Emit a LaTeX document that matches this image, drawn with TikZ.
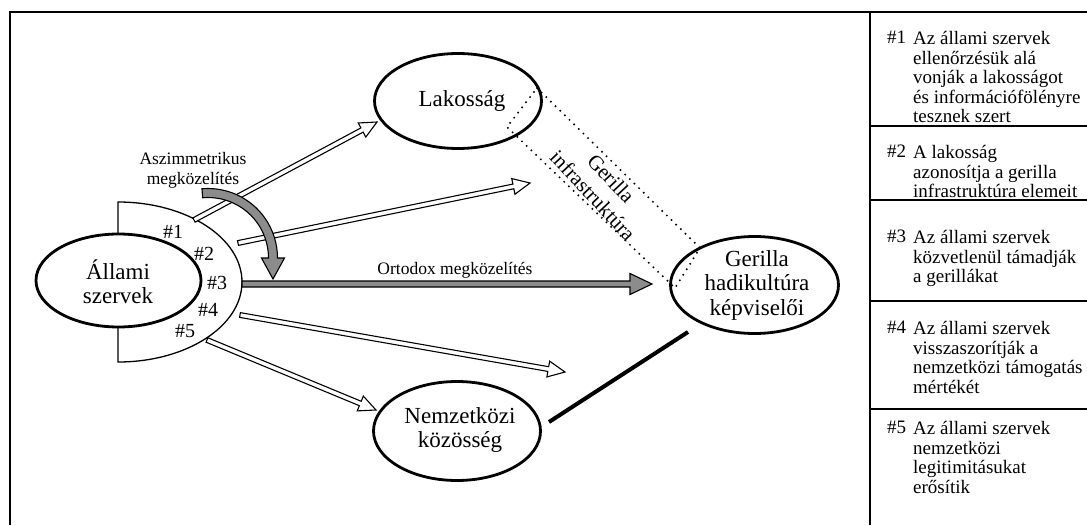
\documentclass[tikz,border=0pt]{standalone}
\usepackage{fontspec}
\setmainfont{Liberation Serif}
\usetikzlibrary{shapes.geometric,calc}
\definecolor{arrgray}{RGB}{140,140,140}
\newcommand\hollowarrow[6][]{%
  \coordinate (hc) at ($(#3)!#6!(#2)$);
  \draw[harrowstyle,#1] ($(#2)!#4!90:(#3)$) -- ($(hc)!#4!-90:(#2)$) -- ($(hc)!#5!-90:(#2)$) -- (#3) -- ($(hc)!#5!90:(#2)$) -- ($(hc)!#4!90:(#2)$) -- ($(#2)!#4!-90:(#3)$) -- cycle;}
\begin{document}
\begin{tikzpicture}[x=1pt,y=-1pt,
  ell/.style={ellipse, draw, line width=2.8pt, fill=white, inner sep=0pt},
  mtxt/.style={align=center, inner sep=0pt, font=\fontsize{23}{24.5}\selectfont},
  harrowstyle/.style={draw, line width=1.1pt, fill=white, line join=miter},
  lbl/.style={font=\fontsize{17.5}{20}\selectfont, align=center, inner sep=0pt},
  tabtxt/.style={font=\fontsize{19}{19.6}\selectfont, align=left, inner sep=0pt, anchor=north west},
  hashlbl/.style={font=\fontsize{20}{22}\selectfont, inner sep=0pt},
  frame/.style={line width=2.6pt},
  rowline/.style={line width=2.2pt},
  dots/.style={line width=2.2pt, dash pattern=on 0pt off 6.5pt, line cap=round}
]
\useasboundingbox (0,0) rectangle (1087,525);
\fill[white] (0,0) rectangle (1087,525);
% frame and table
\draw[frame] (10,525) -- (10,12) -- (1087,12);
\draw[frame] (870,12) -- (870,525);
\foreach \yy in {126,200,301,409} \draw[rowline] (870,\yy) -- (1087,\yy);
% half-moon
\draw[line width=1.3pt, fill=white] (118,202) arc[start angle=-90, end angle=90, x radius=124, y radius=80] -- cycle;
% ellipses
\node[ell, minimum width=165pt, minimum height=93pt] (allami) at (118.5,280.5) {};
\node[ell, minimum width=167pt, minimum height=95pt] (lak) at (458,101) {};
\node[ell, minimum width=168pt, minimum height=97pt] (ger) at (754.5,285) {};
\node[ell, minimum width=167pt, minimum height=99pt] (nem) at (457,431) {};
\node[mtxt] (allamitxt) at (118,281.5) {Állami\\szervek};
\node[mtxt] (laktxt) at (462,101) {Lakosság};
\node[mtxt] (gertxt) at (757,285) {Gerilla\\hadikultúra\\képviselői};
\node[mtxt] (nemtxt) at (460,430) {Nemzetközi\\közösség};
% hash labels
\node[hashlbl] (h1) at (173,232) {\#1};
\node[hashlbl] (h2) at (204,254) {\#2};
\node[hashlbl] (h3) at (217,283) {\#3};
\node[hashlbl] (h4) at (208,310) {\#4};
\node[hashlbl] (h5) at (185,331) {\#5};
% dotted infrastructure
\draw[dots] (537,88) -- (700,248) -- (675,288) -- (507,127) -- cycle;
\node[font=\fontsize{21}{25}\selectfont, align=center, inner sep=0pt, rotate=-47] (infra) at (602,187) {Gerilla\\infrastruktúra};
% arrows
\coordinate (a1s) at (194,220); \coordinate (a1e) at (377,122);
\coordinate (a2s) at (238,243); \coordinate (a2e) at (530,183);
\coordinate (a3s) at (242,284); \coordinate (a3e) at (652,284);
\coordinate (a4s) at (240,315); \coordinate (a4e) at (565,372);
\coordinate (a5s) at (207,340); \coordinate (a5e) at (376,410);
\hollowarrow{a1s}{a1e}{2.4pt}{8pt}{17pt}
\hollowarrow{a2s}{a2e}{2.4pt}{8pt}{17pt}
\hollowarrow[fill=arrgray]{a3s}{a3e}{3pt}{10.5pt}{22pt}
\hollowarrow{a4s}{a4e}{2.4pt}{8pt}{17pt}
\hollowarrow{a5s}{a5e}{2.4pt}{8pt}{17pt}
% curved asymmetric arrow
\coordinate (O) at (208,258);
\draw[line width=1.1pt, fill=arrgray, line join=miter] ($(O)+(-95:69.5)$) arc[start angle=-95, end angle=0, radius=69.5] -- (284.5,258) -- (273,279) -- (261.5,258) -- (268.5,258) arc[start angle=0, end angle=-95, radius=60.5] -- cycle;
\node[lbl] (asz) at (193,170) {Aszimmetrikus\\megközelítés};
\node[lbl] (ort) at (455,270) {Ortodox megközelítés};
% thick line
\coordinate (ts) at (549,422); \coordinate (te) at (688,332);
\draw[line width=4pt] (ts) -- (te);
% table texts
\node[tabtxt] (n1) at (887,31) {\#1};
\node[tabtxt] (t1) at (913,31) {Az állami szervek\\ellenőrzésük alá\\vonják a lakosságot\\és információfölényre\\tesznek szert};
\node[tabtxt] (n2) at (887,145) {\#2};
\node[tabtxt] (t2) at (913,145) {A lakosság\\azonosítja a gerilla\\infrastruktúra elemeit};
\node[tabtxt] (n3) at (887,230) {\#3};
\node[tabtxt] (t3) at (913,230) {Az állami szervek\\közvetlenül támadják\\a gerillákat};
\node[tabtxt] (n4) at (887,321) {\#4};
\node[tabtxt] (t4) at (913,321) {Az állami szervek\\visszaszorítják a\\nemzetközi támogatás\\mértékét};
\node[tabtxt] (n5) at (887,421) {\#5};
\node[tabtxt] (t5) at (913,421) {Az állami szervek\\nemzetközi\\legitimitásukat\\erősítik};
\end{tikzpicture}
\end{document}
